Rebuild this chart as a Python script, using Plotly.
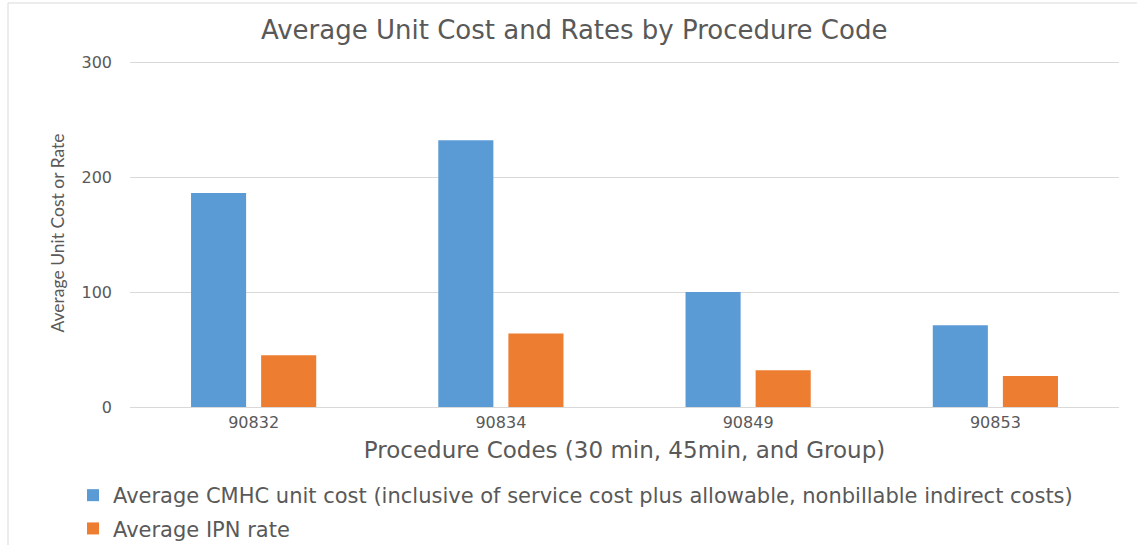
import plotly.graph_objects as go

codes = ["90832", "90834", "90849", "90853"]
cmhc_cost = [186, 232, 100, 71]
ipn_rate = [45, 64, 32, 27]
series_names = [
    "Average CMHC unit cost (inclusive of service cost plus allowable, nonbillable indirect costs)",
    "Average IPN rate",
]
y_ticks = [0, 100, 200, 300]

WIDE = "'DejaVu Sans', 'Open Sans', sans-serif"
NARROW = "Lato, 'Open Sans', sans-serif"
GRAY = "#595959"

L, R, T, B = 130, 18, 59, 138
PW = 1137 - L - R
PH = 545 - T - B
ZERO_Y = 545 - B
PX_PER_100 = 115


def px(x):
    return (x - L) / PW


def py(y):
    return (ZERO_Y - y) / PH


fig = go.Figure()
fig.add_trace(go.Bar(x=codes, y=cmhc_cost, name=series_names[0], legendgroup="a",
                     marker=dict(color="#5B9BD5", line=dict(width=0))))
fig.add_trace(go.Bar(x=codes, y=ipn_rate, name=series_names[1], legendgroup="b",
                     marker=dict(color="#ED7D31", line=dict(width=0))))

fig.update_layout(
    width=1137, height=545,
    margin=dict(l=L, r=R, t=T, b=B, autoexpand=False),
    paper_bgcolor="white", plot_bgcolor="white",
    barmode="group", bargap=0.433, bargroupgap=0.214,
    font=dict(family=WIDE, color=GRAY),
    title=dict(text="Average Unit Cost and Rates by Procedure Code",
               x=0.505, xanchor="center", y=0.945, yanchor="middle",
               font=dict(size=26, color=GRAY, family=WIDE)),
    xaxis=dict(showgrid=False, showline=False, ticks="", ticklabelstandoff=4,
               tickfont=dict(size=16, color=GRAY, family=WIDE),
               title=dict(text="Procedure Codes (30 min, 45min, and Group)",
                          font=dict(size=23, color=GRAY, family=WIDE), standoff=10)),
    yaxis=dict(range=[0, 100 * PH / PX_PER_100], tickvals=y_ticks, showgrid=True,
               gridcolor="#D9D9D9", gridwidth=1,
               zeroline=True, zerolinecolor="#D9D9D9", zerolinewidth=1,
               showline=False, ticks="", ticklabelstandoff=17,
               tickfont=dict(size=16, color=GRAY, family=WIDE),
               title=dict(text="Average Unit Cost or Rate",
                          font=dict(size=17.5, color=GRAY, family=NARROW), standoff=12)),
    legend=dict(orientation="v", x=px(73), xanchor="left", y=py(475), yanchor="top",
                font=dict(size=21, color=GRAY, family=WIDE), tracegroupgap=3,
                itemwidth=30, bgcolor="rgba(0,0,0,0)"),
    shapes=[
        dict(type="line", xref="paper", yref="paper", x0=px(8), x1=px(1137), y0=py(3), y1=py(3),
             line=dict(color="#D9D9D9", width=1), layer="below"),
        dict(type="line", xref="paper", yref="paper", x0=px(8), x1=px(8), y0=py(3), y1=py(545),
             line=dict(color="#D9D9D9", width=1), layer="below"),
    ],
)

fig.write_html("out.html", config={"displayModeBar": False},
               post_script="document.body.style.margin='0';document.body.style.overflow='hidden';")
